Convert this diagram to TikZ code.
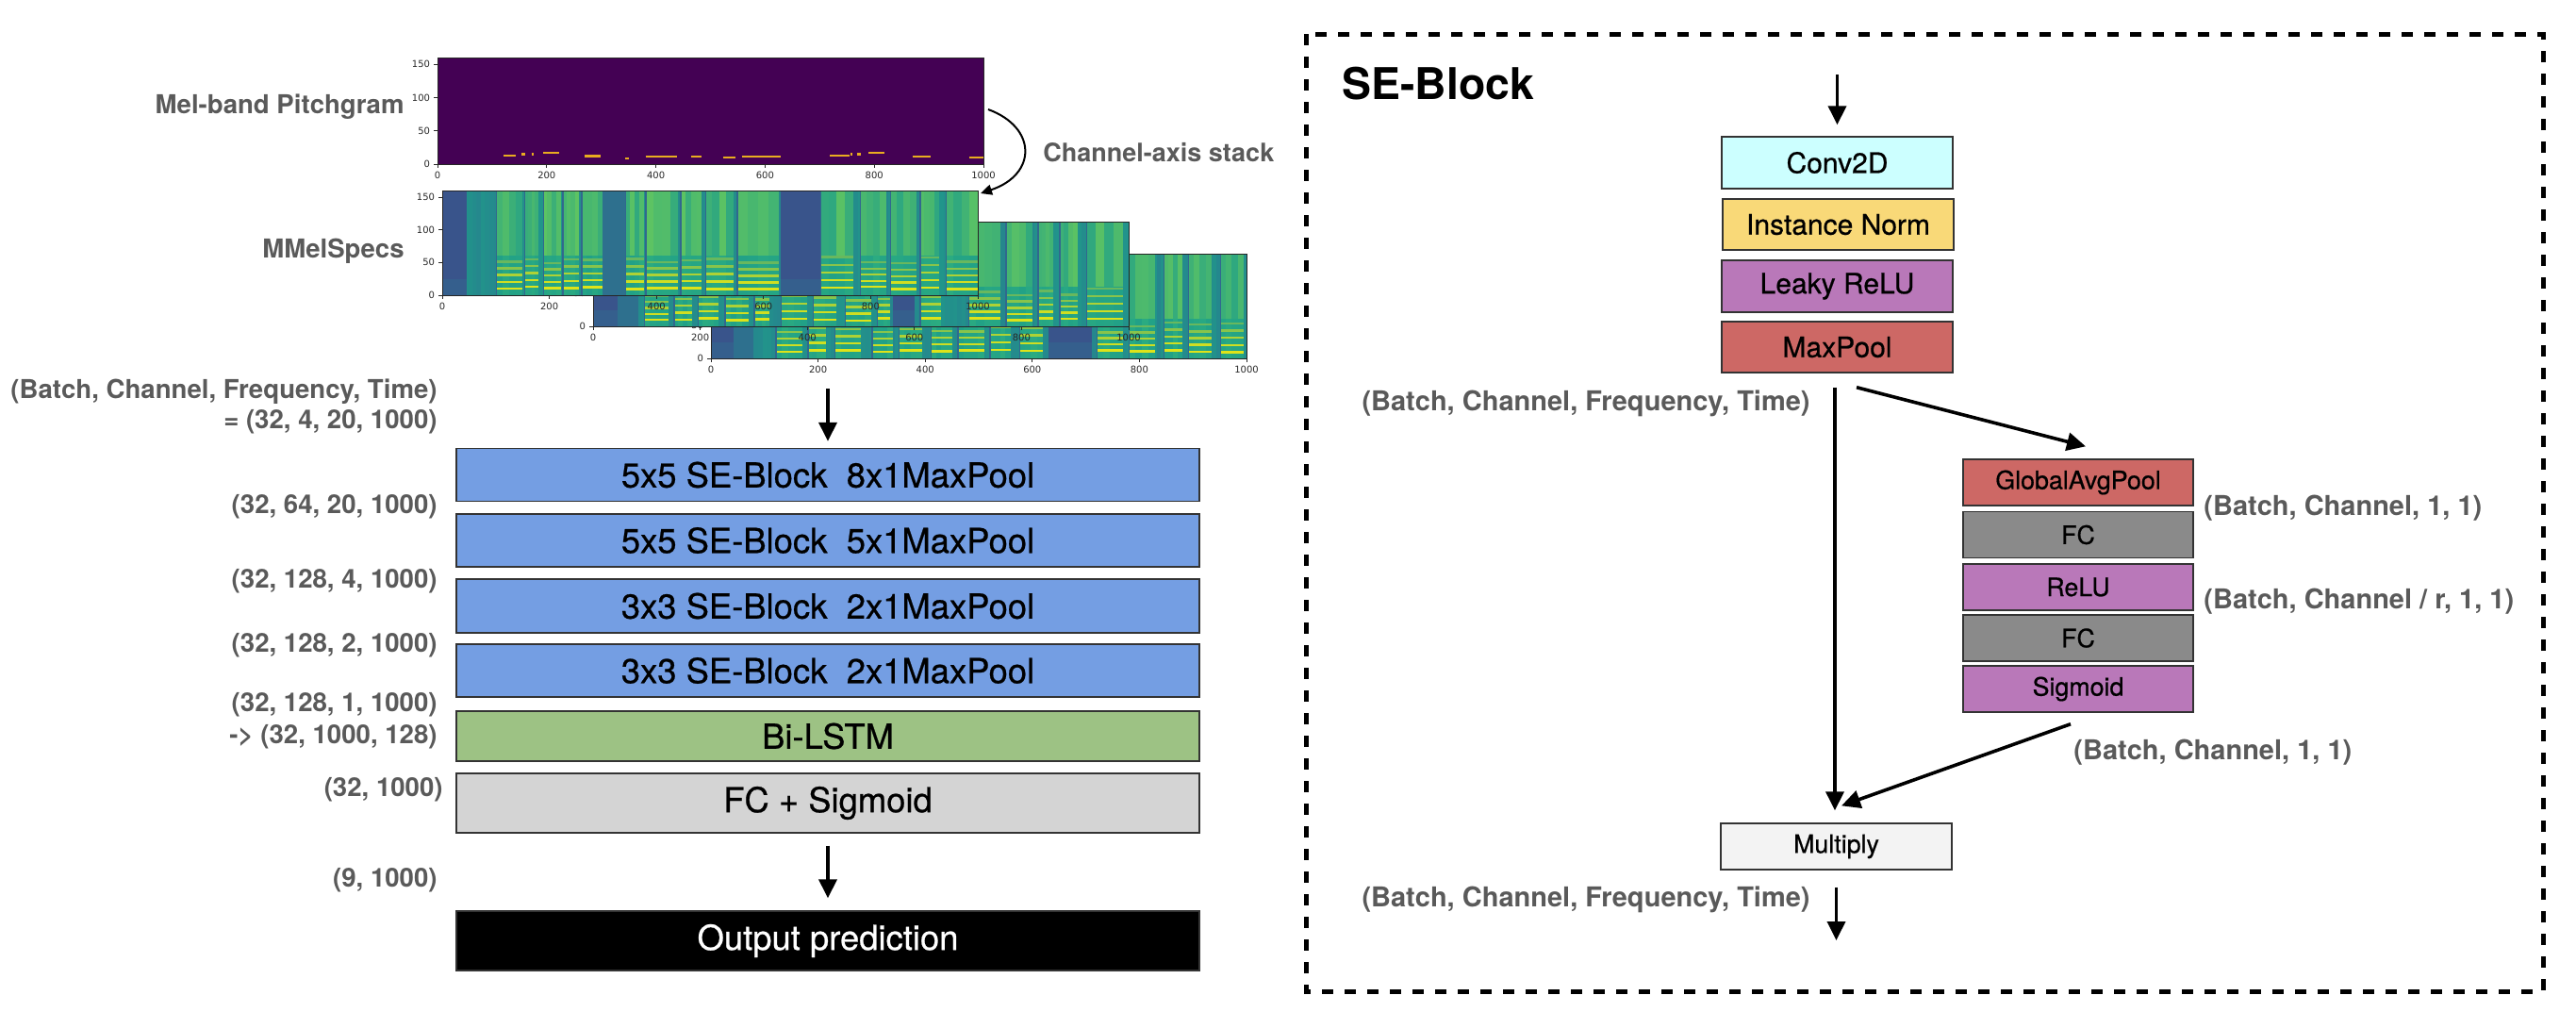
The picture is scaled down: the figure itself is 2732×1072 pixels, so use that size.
\documentclass[tikz,border=0pt]{standalone}
\usepackage{fontspec}
\setmainfont{TeX Gyre Heros}
\newfontfamily\medfont[FakeBold=0.6]{TeX Gyre Heros}
\newfontfamily\tickfont{DejaVu Sans}
\usetikzlibrary{arrows.meta,calc}
\definecolor{sblue}{RGB}{116,158,227}
\definecolor{sgreen}{RGB}{157,194,132}
\definecolor{sgray}{RGB}{212,212,212}
\definecolor{scyan}{RGB}{204,255,255}
\definecolor{syellow}{RGB}{249,217,120}
\definecolor{spurple}{RGB}{185,120,185}
\definecolor{sred}{RGB}{205,104,101}
\definecolor{sdgray}{RGB}{138,138,138}
\definecolor{slight}{RGB}{243,243,243}
\definecolor{labgray}{RGB}{90,90,90}
\definecolor{vpurple}{RGB}{68,1,84}
\definecolor{vdblue}{RGB}{62,74,137}
\definecolor{vblue}{RGB}{49,104,142}
\definecolor{vteal}{RGB}{38,130,142}
\definecolor{vgteal}{RGB}{31,158,137}
\definecolor{vgreen}{RGB}{53,183,121}
\definecolor{vlgreen}{RGB}{109,205,89}
\definecolor{vyellow}{RGB}{222,227,25}
\definecolor{pitch}{RGB}{232,172,32}
\definecolor{tickc}{RGB}{40,40,40}
\tikzset{
  lab/.style={text=labgray, font=\bfseries\fontsize{13.8}{16}\selectfont, inner sep=0pt},
  rlab/.style={text=labgray, font=\bfseries\fontsize{14.5}{17}\selectfont, inner sep=0pt},
  lbox/.style={draw=black!80, line width=0.7pt, minimum width=394pt, inner sep=0pt, font=\medfont\fontsize{18.2}{21}\selectfont},
  bigbox/.style={draw=black!80, line width=0.7pt, minimum width=122.5pt, minimum height=27.5pt, inner sep=0pt, font=\medfont\fontsize{15}{18}\selectfont},
  smallbox/.style={draw=black!80, line width=0.7pt, minimum width=122pt, minimum height=24.5pt, inner sep=0pt, font=\medfont\fontsize{13.4}{16}\selectfont},
  arr/.style={line width=1.8pt, -{Triangle[length=10pt,width=9.5pt]}},
  thinarr/.style={line width=1pt, -{Triangle[length=6pt,width=5.5pt]}},
  tickl/.style={tickc, line width=0.4pt},
  ticklab/.style={text=tickc, inner sep=2pt, font=\tickfont\fontsize{5}{6}\selectfont},
}
% #1 x0, #2 y of bottom, #3 silent list, #4 voiced list, #5 dim list, #6 seed
\newcommand\specplot[6]{%
\begin{scope}[shift={(#1,#2)}, x=0.284pt, y=0.3469pt]
  \pgfmathsetseed{#6}
  \fill[vteal] (0,0) rectangle (1000,160);
  \foreach \xx in {0,8,...,992} {
    \pgfmathsetmacro\rr{int(15+rnd*55)}
    \fill[vgteal!\rr!vteal] (\xx,0) rectangle (\xx+8,160);
  }
  \foreach \xa/\xb in {#5} {\fill[vblue!70!vteal] (\xa,0) rectangle (\xb,160);}
  \foreach \xa/\xb in {#3} {\fill[vdblue!65!vblue] (\xa,0) rectangle (\xb,160);
    \fill[vblue!70!vdblue] (\xa,0) rectangle (\xb,25);}
  \foreach \xa/\xb in {#4} {
    \pgfmathsetmacro\ww{(\xb-\xa)/4}
    \foreach \jj in {0,1,2,3} {
      \pgfmathsetmacro\rr{int(20+rnd*60)}
      \pgfmathsetmacro\ss{int(10+rnd*45)}
      \fill[vlgreen!\rr!vgteal] ({\xa+\jj*\ww},60) rectangle ({\xa+(\jj+1)*\ww},160);
      \fill[vgreen!\ss!vgteal] ({\xa+\jj*\ww},0) rectangle ({\xa+(\jj+1)*\ww},60);
    }
    \pgfmathsetmacro\spc{9+rnd*3}
    \pgfmathsetmacro\bse{7+rnd*4}
    \foreach \kk/\pp in {0/100,1/92,2/75,3/55,4/38} {
      \fill[vyellow!\pp!vgteal] (\xa,{\bse+\kk*\spc}) rectangle (\xb,{\bse+\kk*\spc+3.5});
    }
    \fill[vblue] (\xa,0) rectangle (\xa+2.5,160);
  }
  \draw[black!85, line width=0.5pt] (0,0) rectangle (1000,160);
  \foreach \v in {0,50,100,150} {\draw[tickl] (0,\v) -- ++(-1.8pt,0) node[ticklab, anchor=east] {\v};}
  \foreach \v in {0,200,...,1000} {\draw[tickl] (\v,0) -- ++(0,-1.8pt) node[ticklab, anchor=north] {\v};}
\end{scope}}
\begin{document}
\begin{tikzpicture}[x=0.5pt,y=-0.5pt]
\useasboundingbox (0,0) rectangle (2732,1072);

% ---------- pitchgram ----------
\begin{scope}[shift={(464,174)}, x=0.2895pt, y=0.353pt]
  \fill[vpurple] (0,0) rectangle (1000,160);
  \foreach \xa/\xb/\hh in {121/144/13, 154/161/15, 172/177/15, 194/222/16.5, 270/298/12, 344/351/9, 381/439/11, 464/483/11, 523/545/9.5, 557/629/11, 719/754/13, 757/760/15, 768/775/15, 790/819/16.5, 870/903/11, 974/1000/10}
    {\draw[pitch, line width=1.1pt] (\xa,\hh) -- (\xb,\hh);}
  \draw[black!85, line width=0.5pt] (0,0) rectangle (1000,160);
  \foreach \v in {0,50,100,150} {\draw[tickl] (0,\v) -- ++(-1.8pt,0) node[ticklab, anchor=east] {\v};}
  \foreach \v in {0,200,...,1000} {\draw[tickl] (\v,0) -- ++(0,-1.8pt) node[ticklab, anchor=north] {\v};}
\end{scope}

% ---------- spectrograms (back to front) ----------
\specplot{754}{380}{0/42, 630/711}{120/170, 180/215, 230/280, 300/340, 350/395, 410/450, 460/510, 520/560, 575/620, 720/770, 780/830, 845/880, 890/935, 950/995}{42/80}{31}
\specplot{629}{346}{0/45, 560/600}{95/140, 150/185, 195/235, 245/290, 300/330, 350/400, 410/455, 470/520, 530/555, 610/650, 700/760, 770/820, 830/860, 870/905, 920/990}{45/85}{57}
\specplot{469}{313}{0/45, 632/706}{100/150, 153/180, 188/221, 224/256, 259/300, 341/376, 379/441, 444/485, 491/544, 550/629, 706/767, 780/829, 836/886, 891/928, 940/1000}{300/341}{89}

\node[lab, anchor=east] (mbp) at (429,113) {Mel-band Pitchgram};
\node[lab, anchor=east] (mms) at (429,266) {MMelSpecs};
\node[lab, anchor=west, font=\bfseries\fontsize{13.5}{16}\selectfont] (cas) at (1106,162) {Channel-axis stack};
\coordinate (cs) at (1048,116);
\coordinate (ce) at (1040,205);
\draw[thinarr] (cs) .. controls (1100,135) and (1100,185) .. (ce);

% ---------- left network ----------
\node[lab, anchor=east, align=right] (d0) at (464,431) {(Batch, Channel, Frequency, Time)\\= (32, 4, 20, 1000)};
\node[lab, anchor=east] (d1) at (464,537) {(32, 64, 20, 1000)};
\node[lab, anchor=east] (d2) at (464,616) {(32, 128, 4, 1000)};
\node[lab, anchor=east] (d3) at (464,684) {(32, 128, 2, 1000)};
\node[lab, anchor=east, align=right, font=\bfseries\fontsize{13.8}{17}\selectfont] (d4) at (464,764) {(32, 128, 1, 1000)\\-> (32, 1000, 128)};
\node[lab, anchor=east] (d5) at (470,837) {(32, 1000)};
\node[lab, anchor=east] (d6) at (464,933) {(9, 1000)};

\node[lbox, fill=sblue, minimum height=28pt] (b1) at (878,503.5) {5x5 SE-Block\ \ 8x1MaxPool};
\node[lbox, fill=sblue, minimum height=28pt] (b2) at (878,573) {5x5 SE-Block\ \ 5x1MaxPool};
\node[lbox, fill=sblue, minimum height=28.5pt] (b3) at (878,642.5) {3x3 SE-Block\ \ 2x1MaxPool};
\node[lbox, fill=sblue, minimum height=28pt] (b4) at (878,711) {3x3 SE-Block\ \ 2x1MaxPool};
\node[lbox, fill=sgreen, minimum height=26.5pt] (lstm) at (878,780.5) {Bi-LSTM};
\node[lbox, fill=sgray, minimum height=31.5pt] (fcs) at (878,851.5) {FC + Sigmoid};
\node[lbox, fill=black, text=white, minimum height=31.5pt] (out) at (878,997.5) {Output prediction};

\coordinate (lin) at (878,412);
\draw[arr, shorten >=3.5pt] (lin) -- (b1.north);
\draw[arr, shorten <=6.5pt, shorten >=6.5pt] (fcs.south) -- (out.north);

% ---------- SE-Block panel ----------
\draw[line width=2.5pt, dash pattern=on 6pt off 6pt] (1385,36) rectangle (2697,1051);
\node[anchor=west, inner sep=0pt, font=\bfseries\fontsize{23.2}{26}\selectfont] (setitle) at (1423,89) {SE-Block};

\node[bigbox, fill=scyan] (conv) at (1948.5,172.5) {Conv2D};
\node[bigbox, fill=syellow, minimum height=27pt] (inorm) at (1949.5,238) {Instance Norm};
\node[bigbox, fill=spurple] (lrelu) at (1948.5,303.5) {Leaky ReLU};
\node[bigbox, fill=sred, minimum height=27pt] (mpool) at (1948.5,368) {MaxPool};

\node[smallbox, fill=sred] (gap) at (2204,511.5) {GlobalAvgPool};
\node[smallbox, fill=sdgray] (fc1) at (2204,567) {FC};
\node[smallbox, fill=spurple] (relu) at (2204,622.5) {ReLU};
\node[smallbox, fill=sdgray] (fc2) at (2204,676.5) {FC};
\node[smallbox, fill=spurple] (sig) at (2204,730.5) {Sigmoid};
\node[smallbox, fill=slight, minimum width=122.5pt] (mult) at (1947.5,897.5) {Multiply};

\node[rlab, anchor=east] (r0) at (1920,428) {(Batch, Channel, Frequency, Time)};
\node[rlab, anchor=west] (r1) at (2337,539) {(Batch, Channel, 1, 1)};
\node[rlab, anchor=west] (r2) at (2337,638) {(Batch, Channel / r, 1, 1)};
\node[rlab, anchor=west] (r3) at (2199,798) {(Batch, Channel, 1, 1)};
\node[rlab, anchor=east] (r4) at (1920,954) {(Batch, Channel, Frequency, Time)};

\coordinate (sin) at (1948.5,79);
\coordinate (sout) at (1947.5,997);
\draw[arr, shorten >=6pt] (sin) -- (conv.north);
\draw[arr] ($(mpool.south)+(-2.5,15)$) -- ($(mult.north)+(-1.5,-13)$);
\draw[arr] ($(mpool.south)+(20.5,15)$) -- ($(gap.north)+(8,-13)$);
\draw[arr] ($(sig.south)+(-8,12)$) -- ($(mult.north)+(5.5,-18)$);
\draw[arr, shorten <=9pt] (mult.south) -- (sout);
\end{tikzpicture}
\end{document}
